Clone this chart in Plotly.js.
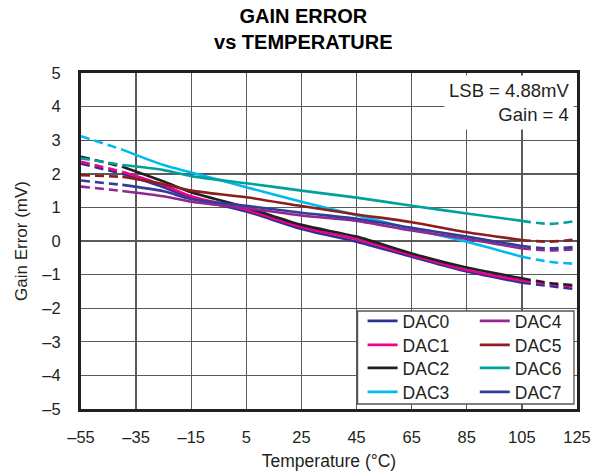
<!DOCTYPE html>
<html>
<head>
<meta charset="utf-8">
<script src="https://cdn.plot.ly/plotly-3.0.1.min.js"></script>
<style>html,body{margin:0;padding:0;background:#fff;}#chart{width:603px;height:476px;}</style>
</head>
<body>
<div id="chart"></div>
<script>
// Temperatures (°C) at which values were read
const temps = [-55, -40, -25, -15, 5, 25, 45, 65, 85, 105, 115, 125];
// Gain error (mV) per DAC channel
const dac0 = [2.30, 2.00, 1.60, 1.28, 0.88, 0.36, -0.02, -0.47, -0.91, -1.24, -1.34, -1.44];
const dac1 = [2.36, 2.06, 1.66, 1.33, 0.93, 0.42, 0.05, -0.42, -0.86, -1.18, -1.28, -1.36];
const dac2 = [2.51, 2.21, 1.77, 1.45, 1.00, 0.48, 0.13, -0.37, -0.79, -1.11, -1.25, -1.32];
const dac3 = [3.12, 2.72, 2.26, 2.04, 1.60, 1.17, 0.77, 0.36, -0.02, -0.47, -0.62, -0.68];
const dac4 = [1.62, 1.49, 1.33, 1.17, 0.98, 0.76, 0.60, 0.31, 0.06, -0.22, -0.28, -0.24];
const dac5 = [1.96, 1.91, 1.69, 1.50, 1.30, 1.04, 0.79, 0.56, 0.26, 0.03, -0.02, 0.05];
const dac6 = [2.46, 2.26, 2.11, 1.93, 1.72, 1.50, 1.29, 1.05, 0.82, 0.60, 0.51, 0.60];
const dac7 = [1.80, 1.67, 1.48, 1.25, 1.05, 0.84, 0.66, 0.39, 0.13, -0.15, -0.22, -0.17];

const seriesNames = ['DAC0','DAC1','DAC2','DAC3','DAC4','DAC5','DAC6','DAC7'];
const seriesValues = [dac0, dac1, dac2, dac3, dac4, dac5, dac6, dac7];
const seriesColors = ['#2e3192','#ec008c','#231f20','#00b9f1','#92278f','#8b1e1e','#00a19c','#353b98'];

const xTickVals = [-55, -35, -15, 5, 25, 45, 65, 85, 105, 125];
const xTickText = ['–55','–35','–15','5','25','45','65','85','105','125'];
const yTickVals = [-5,-4,-3,-2,-1,0,1,2,3,4,5];
const yTickText = ['–5','–4','–3','–2','–1','0','1','2','3','4','5'];

// solid region -40..105, dashed outside
const iSolidStart = temps.indexOf(-40);
const iSolidEnd = temps.indexOf(105);

const legendIds = ['legend','legend2','legend3','legend4','legend5','legend6','legend7','legend8'];

const traces = [];
seriesNames.forEach((name, k) => {
  const ys = seriesValues[k];
  const col = seriesColors[k];
  traces.push({
    x: temps.slice(iSolidStart, iSolidEnd + 1), y: ys.slice(iSolidStart, iSolidEnd + 1),
    type: 'scatter', mode: 'lines', name: name, legend: legendIds[k], legendgroup: name,
    line: {color: col, width: 2.6, shape: 'spline', smoothing: 0.8}
  });
  traces.push({
    x: temps.slice(0, iSolidStart + 1), y: ys.slice(0, iSolidStart + 1),
    type: 'scatter', mode: 'lines', showlegend: false, legendgroup: name,
    line: {color: col, width: 2.6, dash: '9px,5px'}
  });
  traces.push({
    x: temps.slice(iSolidEnd), y: ys.slice(iSolidEnd),
    type: 'scatter', mode: 'lines', showlegend: false, legendgroup: name,
    line: {color: col, width: 2.6, dash: '9px,5px', shape: 'spline', smoothing: 0.8}
  });
});

const fontFam = 'Liberation Sans, Arial, Helvetica, sans-serif';
const legendCommon = {
  bgcolor: 'rgba(0,0,0,0)', borderwidth: 0, orientation: 'v',
  xanchor: 'left', yanchor: 'middle',
  font: {family: fontFam, size: 17.5, color: '#231f20'}
};
const rowY = [0.2619, 0.1905, 0.1220, 0.0506];
const colX = [0.5677, 0.7939];

const layout = {
  width: 603, height: 476,
  margin: {l: 81, r: 26, t: 73, b: 67, pad: 0},
  paper_bgcolor: '#ffffff', plot_bgcolor: '#ffffff',
  font: {family: fontFam, color: '#231f20'},
  showlegend: true,
  title: {
    text: '<b>GAIN ERROR<br>vs TEMPERATURE</b>',
    x: 0.503, xanchor: 'center', xref: 'container', y: 0.951, yanchor: 'top',
    font: {family: fontFam, size: 20, color: '#000000'}
  },
  xaxis: {
    range: [-55, 125], tickvals: xTickVals, ticktext: xTickText,
    showgrid: true, gridcolor: '#5a5a5a', gridwidth: 1.4, zeroline: false,
    showline: true, linecolor: '#231f20', linewidth: 3, mirror: true,
    ticks: '', ticklabelstandoff: 11,
    tickfont: {family: fontFam, size: 16.5, color: '#231f20'},
    title: {text: 'Temperature (°C)', standoff: 10, font: {family: fontFam, size: 17.5, color: '#231f20'}}
  },
  yaxis: {
    range: [-5, 5], tickvals: yTickVals, ticktext: yTickText,
    showgrid: true, gridcolor: '#5a5a5a', gridwidth: 1.4, zeroline: false,
    showline: true, linecolor: '#231f20', linewidth: 3, mirror: true,
    ticks: '', ticklabelstandoff: 14,
    tickfont: {family: fontFam, size: 16.5, color: '#231f20'},
    title: {text: 'Gain Error (mV)', standoff: 11, font: {family: fontFam, size: 17, color: '#231f20'}}
  },
  shapes: [{
    type: 'rect', xref: 'paper', yref: 'paper', layer: 'above',
    x0: 0.5576, x1: 0.9939, y0: 0.0149, y1: 0.2917,
    fillcolor: '#ffffff', line: {color: '#555555', width: 1.3}
  }],
  annotations: [{
    xref: 'paper', yref: 'paper', x: 1, y: 1, xanchor: 'right', yanchor: 'top',
    xshift: -3, yshift: -2, align: 'right', showarrow: false,
    text: 'LSB = 4.88mV<br>Gain = 4', bgcolor: '#ffffff', borderpad: 4,
    font: {family: fontFam, size: 18.5, color: '#231f20'}
  }]
};
legendIds.forEach((id, k) => {
  layout[id] = Object.assign({}, legendCommon, {x: colX[Math.floor(k / 4)], y: rowY[k % 4]});
});

Plotly.newPlot('chart', traces, layout, {displayModeBar: false, staticPlot: true});
</script>
</body>
</html>
